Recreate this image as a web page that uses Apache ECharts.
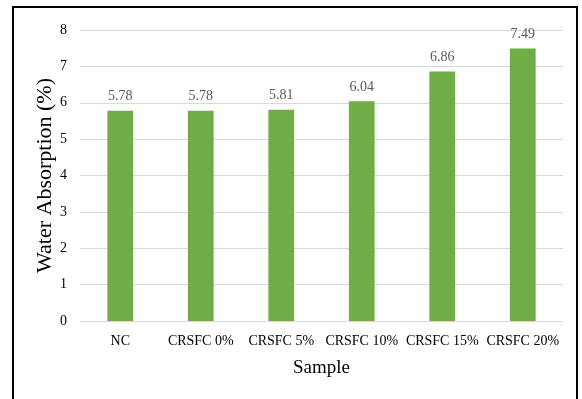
<!DOCTYPE html>
<html>
<head>
<meta charset="utf-8">
<script src="https://cdn.jsdelivr.net/npm/echarts@6/dist/echarts.min.js"></script>
<style>
  html, body { margin: 0; padding: 0; background: #fff; }
  #frame { position: absolute; left: 12px; top: 6px; width: 562px; height: 400px; border: 2px solid #000; box-sizing: content-box; }
  #chart { position: absolute; left: 0; top: 0; width: 582px; height: 399px; }
</style>
</head>
<body>
<div id="frame"></div>
<div id="chart"></div>
<script>
// Water absorption per sample
const categories = ['NC', 'CRSFC 0%', 'CRSFC 5%', 'CRSFC 10%', 'CRSFC 15%', 'CRSFC 20%'];
const absorption = [5.78, 5.78, 5.81, 6.04, 6.86, 7.49];
const yTicks = { min: 0, max: 8, interval: 1 };

const serif = '"Liberation Serif", "Times New Roman", serif';
const chart = echarts.init(document.getElementById('chart'), null, { renderer: 'canvas' });
chart.setOption({
  animation: false,
  grid: { left: 80, right: 19, top: 30, bottom: 78, containLabel: false },
  xAxis: {
    type: 'category',
    data: categories,
    name: 'Sample',
    nameLocation: 'middle',
    nameGap: 38,
    nameTextStyle: { fontFamily: serif, fontSize: 19, color: '#000' },
    axisLine: { lineStyle: { color: '#d9d9d9', width: 1 } },
    axisTick: { show: false },
    axisLabel: { fontFamily: serif, fontSize: 14, color: '#000', margin: 13, interval: 0 }
  },
  yAxis: {
    type: 'value',
    min: yTicks.min,
    max: yTicks.max,
    interval: yTicks.interval,
    name: 'Water Absorption (%)',
    nameLocation: 'middle',
    nameGap: 24,
    nameMoveOverlap: false,
    nameTextStyle: { fontFamily: serif, fontSize: 22, color: '#000' },
    axisLine: { show: false },
    axisTick: { show: false },
    axisLabel: { fontFamily: serif, fontSize: 14, color: '#000', margin: 13 },
    splitLine: { lineStyle: { color: '#d9d9d9', width: 1 } }
  },
  series: [{
    type: 'bar',
    data: absorption,
    barWidth: '32%',
    itemStyle: { color: '#70ad47' },
    label: {
      show: true,
      position: 'top',
      distance: 7,
      fontFamily: serif,
      fontSize: 14,
      color: '#595959',
      formatter: p => p.value.toFixed(2)
    }
  }]
});
</script>
</body>
</html>
